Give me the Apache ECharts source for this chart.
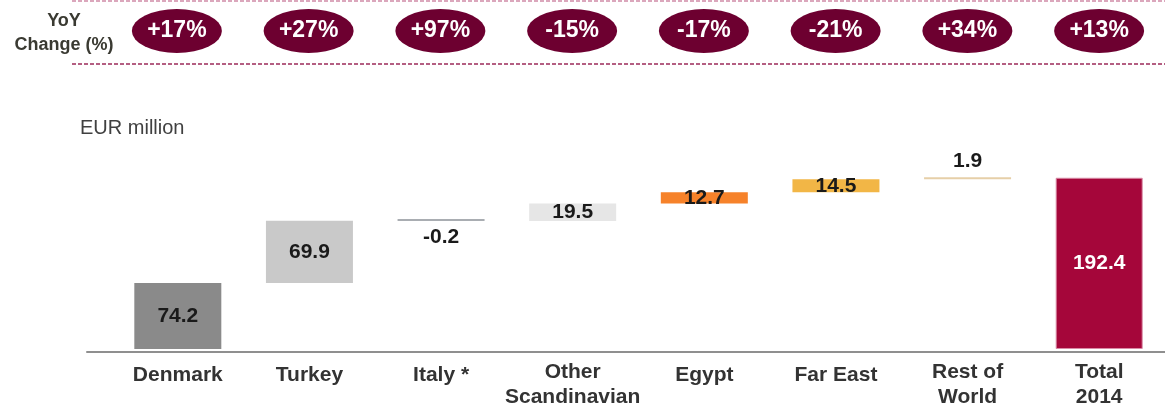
<!DOCTYPE html>
<html>
<head>
<meta charset="utf-8">
<script src="https://cdn.jsdelivr.net/npm/echarts@6/dist/echarts.min.js"></script>
<style>html,body{margin:0;padding:0;background:#fff}#c{width:1165px;height:410px}</style>
</head>
<body>
<div id="c"></div>
<script>
// ---- data ----
const categories = ['Denmark', 'Turkey', 'Italy *', 'Other\nScandinavian', 'Egypt', 'Far East', 'Rest of\nWorld', 'Total\n2014'];
const deltas = [74.2, 69.9, -0.2, 19.5, 12.7, 14.5, 1.9, 192.4];
const isTotal = [false, false, false, false, false, false, false, true];
const yoyLabels = ['+17%', '+27%', '+97%', '-15%', '-17%', '-21%', '+34%', '+13%'];

// ---- style ----
const barColors = ['#8a8a8a', '#c9c9c9', '#a9adb2', '#e6e6e6', '#f6822a', '#f2b646', '#e6cfa8', '#a5063a'];
const FONT = '"Liberation Sans", Arial, sans-serif';

// build waterfall base / visible heights
const bases = [], heights = [];
let cum = 0;
deltas.forEach((d, i) => {
  if (isTotal[i]) { bases.push(0); heights.push(d); }
  else if (d >= 0) { bases.push(cum); heights.push(d); cum += d; }
  else { cum += d; bases.push(cum); heights.push(-d); }
});

const valueData = heights.map((h, i) => {
  const small = h < 5;
  return {
    value: h,
    itemStyle: {
      color: barColors[i],
      borderColor: isTotal[i] ? '#d98aa6' : barColors[i],
      borderWidth: isTotal[i] ? 1 : 0
    },
    label: {
      position: small ? (deltas[i] < 0 ? 'bottom' : 'top') : 'inside',
      color: isTotal[i] ? '#ffffff' : '#1a1a1a',
      distance: 6
    }
  };
});

const labelText = { fontFamily: FONT, fontSize: 21, fontWeight: 'bold', color: '#333333', lineHeight: 25 };

const chart = echarts.init(document.getElementById('c'), null, { renderer: 'canvas' });
chart.setOption({
  animation: false,
  backgroundColor: '#ffffff',
  title: {
    text: 'EUR million', left: 80, top: 118, padding: 0,
    textStyle: { fontFamily: FONT, fontSize: 20, fontWeight: 'normal', color: '#404040' }
  },
  grid: [
    { left: 112, width: 1063, top: 171, bottom: 58 },
    { left: 111, width: 1063, top: 9, height: 44 },
    { left: 87, right: 0, top: 171, bottom: 58 }
  ],
  xAxis: [
    {
      type: 'category', gridIndex: 0, data: categories,
      axisLine: { show: false }, axisTick: { show: false },
      axisLabel: Object.assign({
        interval: 0, margin: 11,
        formatter: v => v.indexOf('\n') < 0 ? '{s|' + v + '}' : '{m|' + v.split('\n').join('}\n{m|') + '}',
        rich: {
          s: Object.assign({ padding: [5, 0, 0, 0] }, labelText),
          m: Object.assign({}, labelText)
        }
      }, labelText)
    },
    { type: 'category', gridIndex: 1, data: categories, show: false },
    {
      type: 'value', gridIndex: 2, min: 0, max: 1,
      axisLine: { show: true, lineStyle: { color: '#8f8f8f', width: 2 } },
      axisTick: { show: false }, axisLabel: { show: false }, splitLine: { show: false }
    }
  ],
  yAxis: [
    { type: 'value', gridIndex: 0, min: 0, max: 200, show: false },
    { type: 'value', gridIndex: 1, min: -1, max: 1, show: false },
    { type: 'value', gridIndex: 2, min: 0, max: 1, show: false }
  ],
  series: [
    {
      name: 'base', type: 'bar', stack: 'w', xAxisIndex: 0, yAxisIndex: 0,
      barWidth: 87, silent: true,
      itemStyle: { color: 'transparent' },
      data: bases
    },
    {
      name: 'value', type: 'bar', stack: 'w', xAxisIndex: 0, yAxisIndex: 0,
      barWidth: 87, barMinHeight: 2,
      label: {
        show: true, fontFamily: FONT, fontSize: 21, fontWeight: 'bold',
        formatter: p => deltas[p.dataIndex].toFixed(1)
      },
      data: valueData
    },
    {
      name: 'yoy', type: 'scatter', xAxisIndex: 1, yAxisIndex: 1,
      symbol: 'circle', symbolSize: [90, 44],
      itemStyle: { color: '#6d0030', opacity: 1 },
      label: {
        show: true, position: 'inside', color: '#ffffff',
        fontFamily: FONT, fontSize: 23, fontWeight: 'bold',
        formatter: p => yoyLabels[p.dataIndex]
      },
      data: categories.map((c, i) => [i, 0])
    }
  ],
  graphic: [
    {
      type: 'line', shape: { x1: 72, y1: 1, x2: 1165, y2: 1 },
      style: { stroke: '#cf8aa6', lineWidth: 1.5, lineDash: [4, 2] }
    },
    {
      type: 'line', shape: { x1: 72, y1: 64, x2: 1165, y2: 64 },
      style: { stroke: '#9c2a5a', lineWidth: 1.5, lineDash: [4, 2] }
    },
    {
      type: 'text', left: 14, top: 9,
      style: {
        text: 'YoY\nChange (%)', textAlign: 'center', fill: '#3a3a32',
        font: 'bold 18px ' + FONT, lineHeight: 24, width: 100
      }
    }
  ]
});
</script>
</body>
</html>
